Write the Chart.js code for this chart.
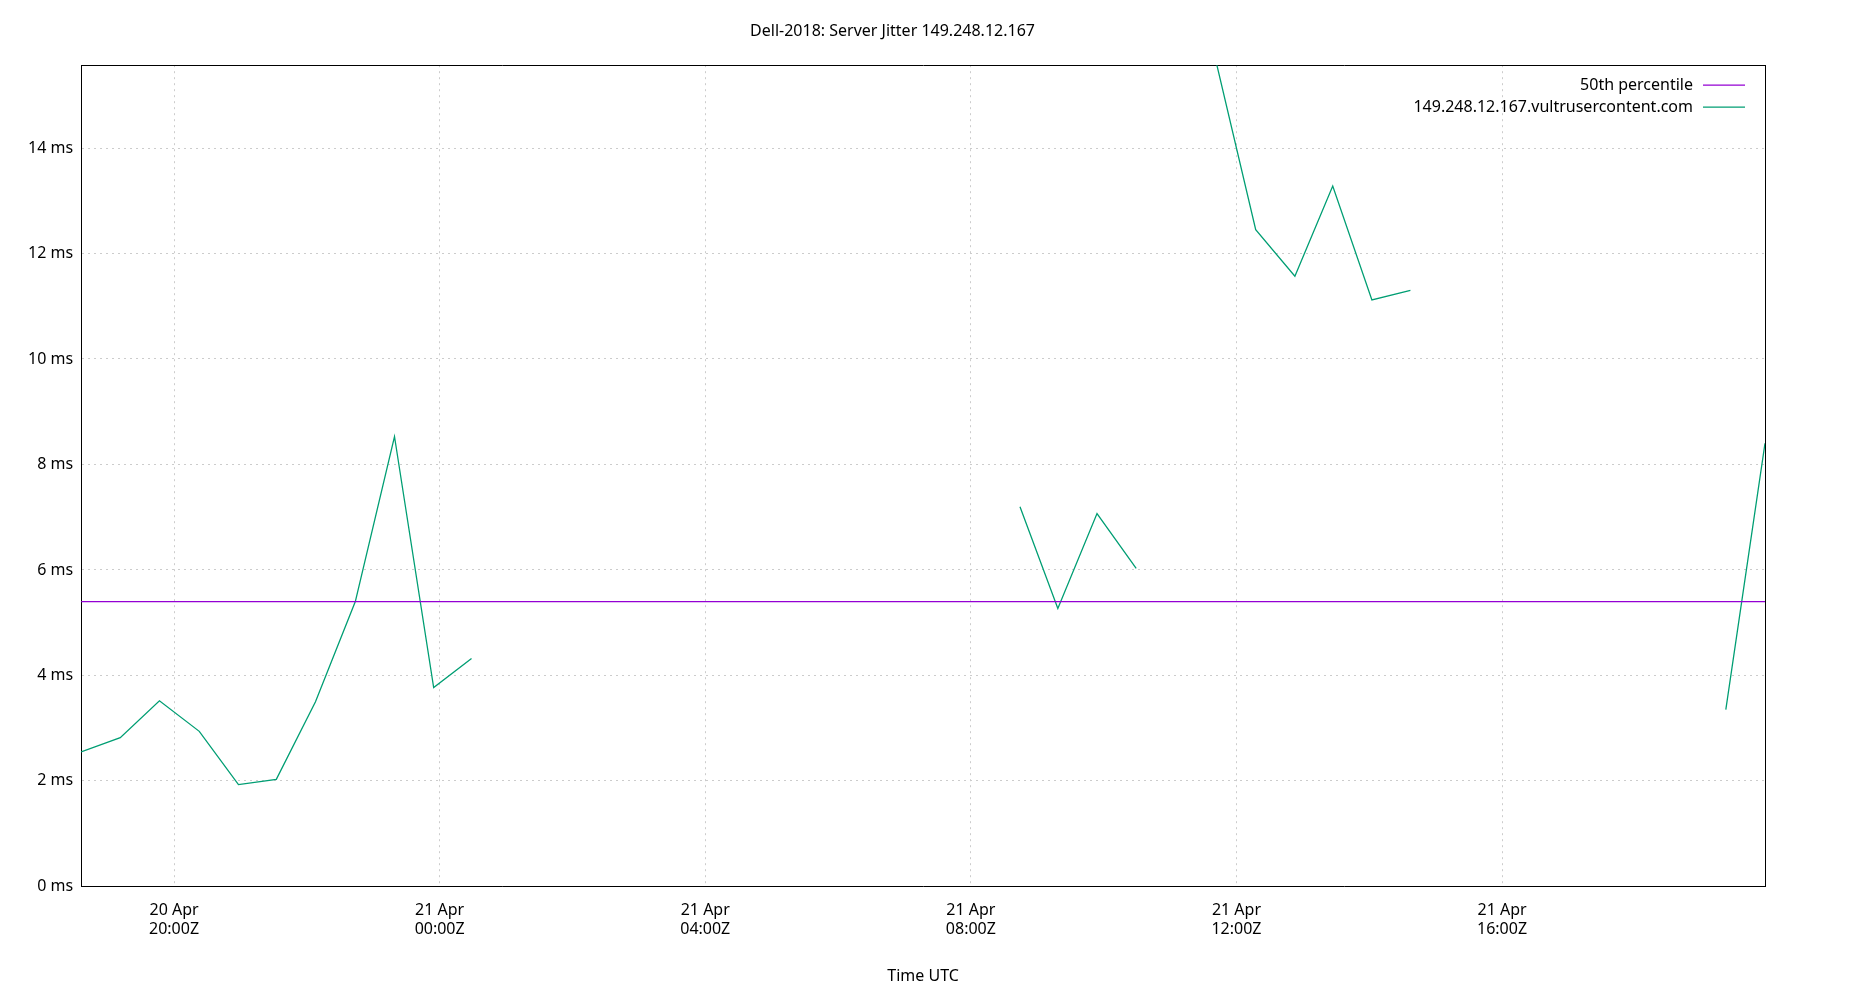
<!DOCTYPE html>
<html><head><meta charset="utf-8">
<script src="https://cdn.jsdelivr.net/npm/chart.js@4/dist/chart.umd.min.js"></script>
<style>body{margin:0;background:#fff}</style>
</head><body>
<canvas id="chart" width="1850" height="1000"></canvas>
<script>
// hours since 20 Apr 00:00Z
const jitterHours = [18.60,19.19,19.78,20.38,20.97,21.54,22.13,22.73,23.32,23.91,24.48,28,
  32.74,33.31,33.90,34.49,35,
  35.70,36.29,36.88,37.45,38.04,38.62,40,
  43.37,43.96];
const jitterMs = [2.55,2.82,3.52,2.94,1.93,2.03,3.5,5.4,8.53,3.77,4.32,null,
  7.2,5.27,7.07,6.03,null,
  15.6,12.45,11.57,13.28,11.12,11.3,null,
  3.35,8.4];
const median = 5.4;
const xTicks = [20,24,28,32,36,40];
const seriesNames = ['50th percentile','149.248.12.167.vultrusercontent.com'];
const colors = ['#9400d3','#009e73'];

Chart.defaults.font = {family:'Noto Sans', size:16};
Chart.defaults.color = '#000';

const legendInside = {
  id:'legendInside',
  afterDraw(c){
    const ctx=c.ctx, a=c.chartArea;
    ctx.save(); ctx.font='16px Noto Sans'; ctx.textAlign='right'; ctx.textBaseline='middle';
    seriesNames.forEach((n,i)=>{
      const y=a.top+20+i*22;
      ctx.fillStyle='#000'; ctx.fillText(n,a.right-72,y);
      ctx.strokeStyle=colors[i]; ctx.lineWidth=1.2;
      ctx.beginPath(); ctx.moveTo(a.right-62,y); ctx.lineTo(a.right-20,y); ctx.stroke();
    });
    ctx.restore();
  }
};

new Chart(document.getElementById('chart'), {
  type:'line',
  data:{datasets:[
    {label:seriesNames[0], data:[{x:18.6,y:median},{x:43.96,y:median}], borderColor:colors[0], borderWidth:1.3, pointRadius:0},
    {label:seriesNames[1], data:jitterHours.map((h,i)=>({x:h,y:jitterMs[i]})), borderColor:colors[1], borderWidth:1.3, pointRadius:0, spanGaps:false}
  ]},
  options:{
    responsive:false, animation:false,
    layout:{padding:{left:20,right:85,top:10,bottom:10}},
    plugins:{
      legend:{display:false},
      title:{display:true,text:'Dell-2018: Server Jitter 149.248.12.167',font:{family:'Noto Sans',size:16,weight:'normal'},padding:{top:12,bottom:24}},
      tooltip:{enabled:false}
    },
    scales:{
      x:{type:'linear',min:18.6,max:43.96,
        afterBuildTicks(s){s.ticks=xTicks.map(v=>({value:v}));},
        ticks:{autoSkip:false,maxRotation:0,padding:14,callback:v=>{const d=v>=24?21:20,h=v%24;return[d+' Apr',String(h).padStart(2,'0')+':00Z'];}},
        grid:{color:'#ccc',tickLength:0},
        border:{color:'#000',width:1,dash:[2,4]},
        title:{display:true,text:'Time UTC',padding:{top:14}}
      },
      x2:{type:'linear',position:'top',min:18.6,max:43.96,
        ticks:{display:false},grid:{display:false,drawTicks:false},border:{color:'#000'}},
      y:{min:0,max:15.57,
        afterBuildTicks(s){s.ticks=[0,2,4,6,8,10,12,14].map(v=>({value:v}));},
        ticks:{callback:v=>v+' ms',padding:8},
        grid:{color:'#ccc',tickLength:0},
        border:{color:'#000',dash:[2,4]}
      },
      y2:{position:'right',min:0,max:15.57,ticks:{display:false},grid:{display:false,drawTicks:false},border:{color:'#000'}}
    }
  },
  plugins:[legendInside]
});
</script>
</body></html>
